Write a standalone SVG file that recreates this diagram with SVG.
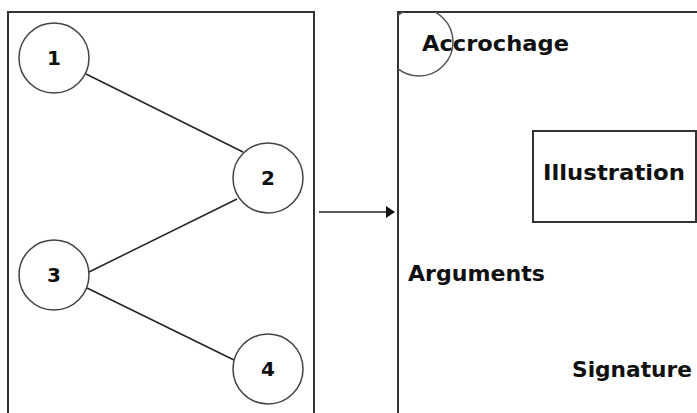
<svg xmlns="http://www.w3.org/2000/svg" width="697" height="413" viewBox="0 0 697 413">
  <style>
    .frame { fill: none; stroke: #333; stroke-width: 2; }
    .node circle { fill: #fff; stroke: #444; stroke-width: 1.5; }
    .label { font-family: "DejaVu Sans", Verdana, sans-serif; font-weight: bold; fill: #111; }
    .num { font-size: 20px; text-anchor: middle; }
    .word { font-size: 21px; }
    .edge { stroke: #222; stroke-width: 1.5; fill: none; }
  </style>
  <defs>
    <marker id="arrowhead" markerWidth="9" markerHeight="12" refX="8" refY="6" orient="auto" markerUnits="userSpaceOnUse">
      <path d="M0,0 L9,6 L0,12 Z" fill="#111"/>
    </marker>
    <clipPath id="pageClip">
      <rect x="398" y="12" width="300" height="402"/>
    </clipPath>
  </defs>
  <rect width="697" height="413" fill="#fff"/>

  <!-- left panel: sequence graph -->
  <rect id="left-panel" class="frame" x="8" y="12" width="306" height="410"/>

  <g id="connectors">
    <line class="edge" x1="86" y1="74" x2="243" y2="152"/>
    <line class="edge" x1="237" y1="199" x2="89" y2="272"/>
    <line class="edge" x1="87" y1="288" x2="234" y2="360"/>
    <line class="edge" x1="319" y1="212" x2="394" y2="212" marker-end="url(#arrowhead)"/>
  </g>

  <g id="node-1" class="node">
    <circle cx="54" cy="58" r="35"/>
    <text class="label num" x="54" y="65">1</text>
  </g>
  <g id="node-2" class="node">
    <circle cx="268" cy="178" r="35"/>
    <text class="label num" x="268" y="185">2</text>
  </g>
  <g id="node-3" class="node">
    <circle cx="54" cy="275" r="35"/>
    <text class="label num" x="54" y="282">3</text>
  </g>
  <g id="node-4" class="node">
    <circle cx="268" cy="369" r="35"/>
    <text class="label num" x="268" y="376">4</text>
  </g>

  <!-- right panel: page layout -->
  <rect id="right-panel" class="frame" x="398" y="12" width="310" height="410"/>

  <g id="accrochage">
    <circle cx="419" cy="42" r="34" fill="none" stroke="#555" stroke-width="1.5" clip-path="url(#pageClip)"/>
    <text class="label word" x="422" y="51" textLength="147" lengthAdjust="spacingAndGlyphs">Accrochage</text>
  </g>
  <g id="illustration">
    <rect class="frame" x="533" y="131" width="163" height="91" fill="#fff"/>
    <text class="label word" x="543" y="180" textLength="142" lengthAdjust="spacingAndGlyphs">Illustration</text>
  </g>
  <g id="arguments">
    <text class="label word" x="408" y="281" textLength="137" lengthAdjust="spacingAndGlyphs">Arguments</text>
  </g>
  <g id="signature">
    <text class="label word" x="572" y="377" textLength="120" lengthAdjust="spacingAndGlyphs">Signature</text>
  </g>
</svg>
